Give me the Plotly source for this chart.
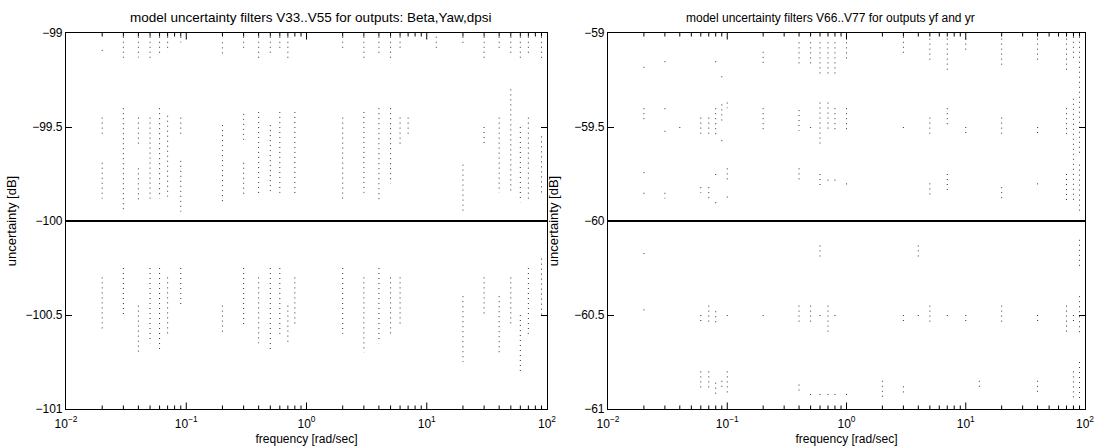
import plotly.graph_objects as go

# ---- Left panel: filters V33..V55 (Beta, Yaw, dpsi) ----
left_level = -100.0
# sample columns: frequency [rad/s], lower and upper end of each dotted run [dB]
left_freq = [
    0.02, 0.03, 0.04, 0.05, 0.06, 0.07, 0.09, 0.2, 0.3, 0.4, 0.5, 0.6, 0.7,
    2, 3, 4, 5, 6, 12, 20, 30, 40, 50, 60, 70, 90,
    0.02, 0.02, 0.03, 0.04, 0.04, 0.05, 0.06, 0.07, 0.09, 0.09, 0.2, 0.3, 0.3,
    0.4, 0.5, 0.6, 0.8, 2, 3, 4, 5, 6, 7, 20, 30, 40, 50, 60, 70, 90,
    0.02, 0.03, 0.04, 0.05, 0.06, 0.07, 0.09, 0.2, 0.3, 0.4, 0.5, 0.6, 0.7,
    0.8, 2, 3, 4, 5, 6, 20, 30, 40, 50, 60, 70, 90,
]
left_lo = [
    -99.10, -99.15, -99.13, -99.15, -99.12, -99.10, -99.05, -99.12, -99.10,
    -99.15, -99.12, -99.10, -99.15, -99.10, -99.15, -99.12, -99.15, -99.10,
    -99.08, -99.06, -99.15, -99.10, -99.12, -99.15, -99.12, -99.15,
    -99.55, -99.88, -99.95, -99.60, -99.90, -99.90, -99.88, -99.87, -99.55,
    -99.95, -99.90, -99.59, -99.87, -99.87, -99.85, -99.85, -99.87, -99.90,
    -99.85, -99.90, -99.80, -99.60, -99.55, -99.95, -99.60, -99.85, -99.85,
    -99.90, -99.90, -99.85,
    -100.58, -100.50, -100.70, -100.65, -100.70, -100.60, -100.45, -100.60,
    -100.55, -100.65, -100.70, -100.60, -100.65, -100.55, -100.60, -100.70,
    -100.65, -100.60, -100.55, -100.75, -100.50, -100.70, -100.55, -100.80,
    -100.60, -100.50,
]
left_hi = [
    -99.09, -99.02, -99.02, -99.02, -99.02, -99.02, -99.02, -99.05, -99.02,
    -99.02, -99.02, -99.02, -99.02, -99.02, -99.02, -99.02, -99.02, -99.02,
    -99.02, -99.02, -99.02, -99.02, -99.02, -99.02, -99.02, -99.02,
    -99.45, -99.69, -99.40, -99.45, -99.72, -99.45, -99.40, -99.44, -99.45,
    -99.68, -99.49, -99.43, -99.69, -99.42, -99.49, -99.42, -99.42, -99.45,
    -99.42, -99.40, -99.40, -99.45, -99.45, -99.70, -99.50, -99.45, -99.30,
    -99.50, -99.45, -99.55,
    -100.30, -100.25, -100.45, -100.25, -100.25, -100.30, -100.25, -100.45,
    -100.25, -100.30, -100.25, -100.25, -100.45, -100.30, -100.25, -100.30,
    -100.25, -100.30, -100.30, -100.40, -100.30, -100.40, -100.30, -100.50,
    -100.25, -100.20,
]

# ---- Right panel: filters V66..V77 (yf, yr) ----
right_level = -60.0
right_freq = [
    0.02, 0.03, 0.08, 0.09, 0.2, 0.4, 0.5, 0.6, 0.7, 0.8, 1.0,
    3, 5, 7, 10, 20, 40, 70, 80, 90,
    0.02, 0.02, 0.02, 0.03, 0.03, 0.03, 0.04, 0.06, 0.06, 0.07, 0.07,
    0.08, 0.08, 0.08, 0.09, 0.09, 0.1, 0.1, 0.1, 0.2, 0.4, 0.4, 0.5,
    0.6, 0.6, 0.7, 0.7, 0.8, 0.8, 1.0, 1.0,
    3, 5, 5, 7, 7, 10, 20, 20, 40, 40, 70, 70, 80, 90,
    0.02, 0.6, 4, 90,
    0.02, 0.06, 0.07, 0.08, 0.1, 0.2, 0.4, 0.5, 0.6, 0.7, 0.8,
    3, 4, 5, 7, 10, 20, 40, 70, 80, 90,
    0.06, 0.07, 0.08, 0.09, 0.1, 0.4, 0.5, 0.6, 0.7, 0.8, 1.0,
    2, 3, 13, 40, 80, 90,
]
right_lo = [
    -59.20, -59.17, -59.17, -59.25, -59.17, -59.17, -59.17, -59.22, -59.22,
    -59.22, -59.15, -59.12, -59.15, -59.20, -59.10, -59.18, -59.15, -59.20,
    -59.15, -59.65,
    -59.47, -59.75, -59.86, -59.41, -59.53, -59.88, -59.51, -59.55, -59.85,
    -59.55, -59.90, -59.55, -59.76, -59.91, -59.47, -59.58, -59.40, -59.78,
    -59.88, -59.53, -59.52, -59.80, -59.51, -59.60, -59.83, -59.53, -59.80,
    -59.53, -59.80, -59.53, -59.81,
    -59.51, -59.55, -59.88, -59.50, -59.85, -59.55, -59.55, -59.88, -59.55,
    -59.81, -59.55, -59.90, -59.90, -59.95,
    -60.18, -60.20, -60.20, -60.25,
    -60.48, -60.55, -60.55, -60.55, -60.51, -60.51, -60.55, -60.55, -60.51,
    -60.60, -60.51, -60.55, -60.51, -60.55, -60.51, -60.55, -60.55, -60.55,
    -60.60, -60.55, -60.60,
    -60.90, -60.90, -60.92, -60.90, -60.92, -60.92, -60.93, -60.93, -60.93,
    -60.93, -60.93, -60.95, -60.92, -60.90, -60.92, -60.95, -60.95,
]
right_hi = [
    -59.18, -59.15, -59.15, -59.23, -59.10, -59.05, -59.05, -59.05, -59.05,
    -59.05, -59.05, -59.02, -59.03, -59.03, -59.03, -59.03, -59.03, -59.03,
    -59.02, -59.02,
    -59.40, -59.74, -59.85, -59.40, -59.52, -59.85, -59.50, -59.45, -59.82,
    -59.45, -59.82, -59.40, -59.75, -59.90, -59.38, -59.57, -59.37, -59.72,
    -59.87, -59.40, -59.41, -59.72, -59.50, -59.37, -59.75, -59.37, -59.78,
    -59.40, -59.78, -59.40, -59.80,
    -59.50, -59.45, -59.80, -59.40, -59.75, -59.50, -59.45, -59.82, -59.50,
    -59.80, -59.40, -59.75, -59.35, -59.70,
    -60.17, -60.13, -60.13, -60.10,
    -60.47, -60.50, -60.45, -60.48, -60.50, -60.50, -60.45, -60.45, -60.50,
    -60.45, -60.50, -60.50, -60.50, -60.45, -60.50, -60.50, -60.45, -60.50,
    -60.45, -60.50, -60.40,
    -60.80, -60.80, -60.86, -60.85, -60.80, -60.87, -60.92, -60.92, -60.92,
    -60.92, -60.92, -60.85, -60.88, -60.85, -60.85, -60.80, -60.75,
]

freq_ticks = [0.01, 0.1, 1, 10, 100]
freq_labels = ["10<sup>−2</sup>", "10<sup>−1</sup>", "10<sup>0</sup>",
               "10<sup>1</sup>", "10<sup>2</sup>"]
# log-axis minor ticks at 2..9 within each decade
freq_minor = [m * 10.0 ** e for e in range(-2, 2) for m in range(2, 10)]
left_ticks = [-101, -100.5, -100, -99.5, -99]
left_labels = ["−101", "−100.5", "−100", "−99.5", "−99"]
right_ticks = [-61, -60.5, -60, -59.5, -59]
right_labels = ["−61", "−60.5", "−60", "−59.5", "−59"]

titles = ["model uncertainty filters V33..V55 for outputs: Beta,Yaw,dpsi",
          "model uncertainty filters V66..V77 for outputs yf and yr"]

FONT = "Liberation Sans, Arial, Helvetica, sans-serif"

# plot-area placement (paper fractions)
LEFT_DOM = [66 / 1095, 547 / 1095]
RIGHT_DOM = [608 / 1095, 1085 / 1095]
Y_DOM = [1 - 409 / 448, 1 - 33 / 448]
MINOR_LEN = 3.5 / (409 - 33)   # minor tick length as a fraction of the y domain
MAJOR_LEN = 6.5 / (409 - 33)


def dotted_runs(freq, lo, hi):
    xs, ys = [], []
    for f, a, b in zip(freq, lo, hi):
        xs += [f, f, None]
        ys += [b, a, None]
    return xs, ys


fig = go.Figure()

panels = [
    ("x", "y", left_level, left_freq, left_lo, left_hi),
    ("x2", "y2", right_level, right_freq, right_lo, right_hi),
]
for xa, ya, level, fq, lo, hi in panels:
    xs, ys = dotted_runs(fq, lo, hi)
    fig.add_trace(go.Scatter(
        x=xs, y=ys, xaxis=xa, yaxis=ya, mode="lines",
        line=dict(color="#333333", width=1, dash="1px,4px"),
        hoverinfo="skip", showlegend=False))
    fig.add_trace(go.Scatter(
        x=[freq_ticks[0], freq_ticks[-1]], y=[level, level],
        xaxis=xa, yaxis=ya, mode="lines",
        line=dict(color="black", width=2), showlegend=False))

# short inward tick marks along the top and bottom frame of each panel
tick_shapes = []
for xa, ya in (("x", "y"), ("x2", "y2")):
    for vals, ln in ((freq_minor, MINOR_LEN), (freq_ticks[1:-1], MAJOR_LEN)):
        for f in vals:
            for y0, y1 in ((0, ln), (1 - ln, 1)):
                tick_shapes.append(dict(
                    type="line", xref=xa, yref=f"{ya} domain", x0=f, x1=f,
                    y0=y0, y1=y1, line=dict(color="black", width=1)))

xcommon = dict(
    type="log", range=[-2, 2], tickvals=freq_ticks, ticktext=freq_labels,
    ticks="", showline=True, mirror=True, linecolor="black", linewidth=1.2,
    showgrid=False, zeroline=False, automargin=False, ticklabelstandoff=3,
    tickfont=dict(size=12, color="black", family=FONT),
    title=dict(text="frequency [rad/sec]", standoff=5,
               font=dict(size=12, color="black", family=FONT)),
)
ycommon = dict(
    ticks="inside", ticklen=6, tickcolor="black", mirror="allticks",
    showline=True, linecolor="black", linewidth=1.2, showgrid=False,
    zeroline=False, automargin=False,
    tickfont=dict(size=12, color="black", family=FONT),
    domain=Y_DOM,
)
ytitle_font = dict(size=13, color="black", family=FONT)

title_y = 1 - 18 / 448
fig.update_layout(
    width=1095, height=448,
    margin=dict(l=0, r=0, t=0, b=0),
    paper_bgcolor="white", plot_bgcolor="white",
    font=dict(family=FONT, color="black"),
    xaxis=dict(xcommon, domain=LEFT_DOM, anchor="y"),
    xaxis2=dict(xcommon, domain=RIGHT_DOM, anchor="y2"),
    yaxis=dict(ycommon, range=[-101, -99], tickvals=left_ticks,
               ticktext=left_labels, anchor="x",
               title=dict(text="uncertainty [dB]", standoff=5,
                          font=ytitle_font)),
    yaxis2=dict(ycommon, range=[-61, -59], tickvals=right_ticks,
                ticktext=right_labels, anchor="x2",
                title=dict(text="uncertainty [dB]", standoff=12,
                           font=ytitle_font)),
    shapes=tick_shapes,
    annotations=[
        dict(text=titles[0], x=310 / 1095, y=title_y,
             xref="paper", yref="paper", xanchor="center", yanchor="middle",
             showarrow=False, font=dict(size=13.5, color="black", family=FONT)),
        dict(text=titles[1], x=830 / 1095, y=title_y,
             xref="paper", yref="paper", xanchor="center", yanchor="middle",
             showarrow=False, font=dict(size=12, color="black", family=FONT)),
    ],
)

fig.write_html("out.html")
